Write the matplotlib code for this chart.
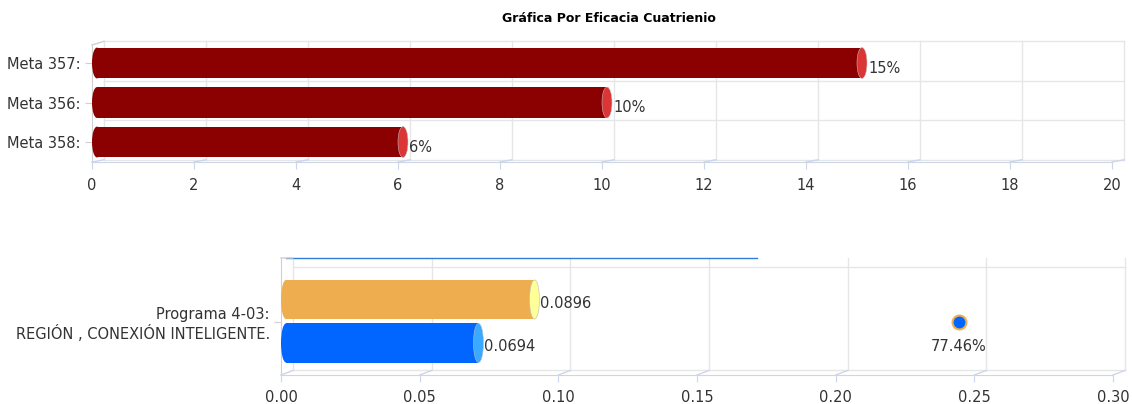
import matplotlib
matplotlib.use("Agg")
import matplotlib.pyplot as plt
from matplotlib.patches import Ellipse
from matplotlib.lines import Line2D
from matplotlib.transforms import offset_copy, IdentityTransform

# ---- data ----
titulo = "Gráfica Por Eficacia Cuatrienio"
metas = ["Meta 357:", "Meta 356:", "Meta 358:"]
metas_valores = [15, 10, 6]
metas_etiquetas = ["15%", "10%", "6%"]
metas_ticks = [0, 2, 4, 6, 8, 10, 12, 14, 16, 18, 20]

programa = "Programa 4-03:\nREGIÓN , CONEXIÓN INTELIGENTE."
programado = 0.0896
ejecutado = 0.0694
eficacia_x = 0.2444
eficacia_etiqueta = "77.46%"
linea_superior = [0.0, 0.170]
programa_ticks = [0.00, 0.05, 0.10, 0.15, 0.20, 0.25, 0.30]

W, H = 1132, 404
fig = plt.figure(figsize=(W / 100, H / 100), dpi=100)
TXT = "#333333"
GRID = "#e6e6e6"
AXC = "#ccd6eb"
FS = 10.5
DX = 12  # depth offset of the back plane, px


def px_axes(l, t, r, b):
    return fig.add_axes([l / W, 1 - b / H, (r - l) / W, (b - t) / H])


def style_axes(ax, xticks, xlabels, pad_x):
    for s in ("top", "right"):
        ax.spines[s].set_visible(False)
    ax.spines["bottom"].set_color(AXC)
    ax.spines["left"].set_color("#d0d0d0")
    ax.set_xticks(xticks)
    ax.set_xticklabels(xlabels)
    ax.tick_params(axis="x", length=5, color=AXC, pad=pad_x, labelsize=FS, labelcolor=TXT)
    ax.tick_params(axis="y", length=5, color="#d0d0d0", pad=3, labelsize=FS, labelcolor=TXT)
    ax.set_facecolor("none")


def depth_frame(ax, xticks, bounds, dy, vtop):
    back = offset_copy(ax.transData, fig=fig, x=DX, y=dy, units="dots")
    x0, x1 = xticks[0], xticks[-1]
    for b in bounds:
        ax.plot([x0, x1], [b, b], color=GRID, lw=1, transform=back, clip_on=False, zorder=0)
    for x in xticks:
        ax.plot([x, x], [bounds[-1], vtop], color=GRID, lw=1, transform=back, clip_on=False, zorder=0)
    # slanted connectors between front axis and back plane
    ybot = ax.get_ylim()[0]
    ytop = ax.get_ylim()[1]
    for x in xticks:
        p = ax.transData.transform((x, ybot))
        q = back.transform((x, bounds[-1]))
        fig.add_artist(Line2D([p[0], q[0]], [p[1], q[1]], color=AXC, lw=1, transform=IdentityTransform()))
    p = ax.transData.transform((x0, ytop))
    q = back.transform((x0, vtop))
    fig.add_artist(Line2D([p[0], q[0]], [p[1], q[1]], color="#d0d0d0", lw=1, transform=IdentityTransform()))


def cylinder(ax, y, value, h, body, cap, px_per_unit, label, lab_dy):
    shift = offset_copy(ax.transData, fig=fig, x=5, y=0, units="dots")
    ew = 10 / px_per_unit
    ax.add_patch(Ellipse((0, y), ew, h, facecolor=body, edgecolor="none", transform=shift, zorder=3))
    bars = ax.barh([y], [value], height=h, left=0, color=body, edgecolor="none", zorder=3)
    for p in bars:
        p.set_transform(shift)
    ax.add_patch(Ellipse((value, y), ew, h, facecolor=cap, edgecolor="#bbbbbb", lw=0.4,
                         transform=shift, zorder=4))
    lab = offset_copy(ax.transData, fig=fig, x=11, y=-lab_dy, units="dots")
    ax.text(value, y, label, transform=lab, ha="left", va="center", fontsize=FS, color=TXT, zorder=5)


fig.text(609 / W, 1 - 18 / H, titulo, ha="center", va="center", fontsize=9,
         fontweight="bold", color="#000000")

# ---- top chart ----
ax1 = px_axes(92, 45, 1112, 162)
ax1.set_xlim(metas_ticks[0], metas_ticks[-1])
ax1.set_ylim(2.506, -0.456)
style_axes(ax1, metas_ticks, [str(t) for t in metas_ticks], 6.5)
ax1.set_yticks(range(len(metas)))
ax1.set_yticklabels(metas)
depth_frame(ax1, metas_ticks, [-0.5, 0.5, 1.5, 2.5], 2, -0.5)
ppu1 = 1020 / (metas_ticks[-1] - metas_ticks[0])
for i, (v, lab) in enumerate(zip(metas_valores, metas_etiquetas)):
    cylinder(ax1, i, v, 0.78, "#8b0000", "#dc3535", ppu1, lab, 5)

# ---- bottom chart ----
ax2 = px_axes(281, 258, 1113, 375)
ax2.set_xlim(programa_ticks[0], programa_ticks[-1])
ax2.set_ylim(0.515, -0.621)
style_axes(ax2, programa_ticks, [f"{t:.2f}" for t in programa_ticks], 5.5)
ax2.set_yticks([0])
ax2.set_yticklabels([programa])
depth_frame(ax2, programa_ticks, [-0.5, 0.5], 3, -0.592)
ppu2 = 832 / (programa_ticks[-1] - programa_ticks[0])
cylinder(ax2, -0.218, programado, 0.38, "#eeae50", "#ffff99", ppu2, f"{programado:.4f}", 4)
cylinder(ax2, 0.204, ejecutado, 0.38, "#0066ff", "#39aaff", ppu2, f"{ejecutado:.4f}", 4)

top = offset_copy(ax2.get_xaxis_transform(), fig=fig, x=5, y=0, units="dots")
ax2.plot(linea_superior, [1.0, 1.0], color="#2f7ed8", lw=1, transform=top, clip_on=False, zorder=3)

ax2.plot([eficacia_x], [0], "o", ms=10, mfc="#0066ff", mec="#eeae50", mew=1.5, zorder=6)
ax2.annotate(eficacia_etiqueta, (eficacia_x, 0), xytext=(0, -18), textcoords="offset points",
             ha="center", va="center", fontsize=FS, color=TXT)

fig.savefig("out.png", dpi=100)
